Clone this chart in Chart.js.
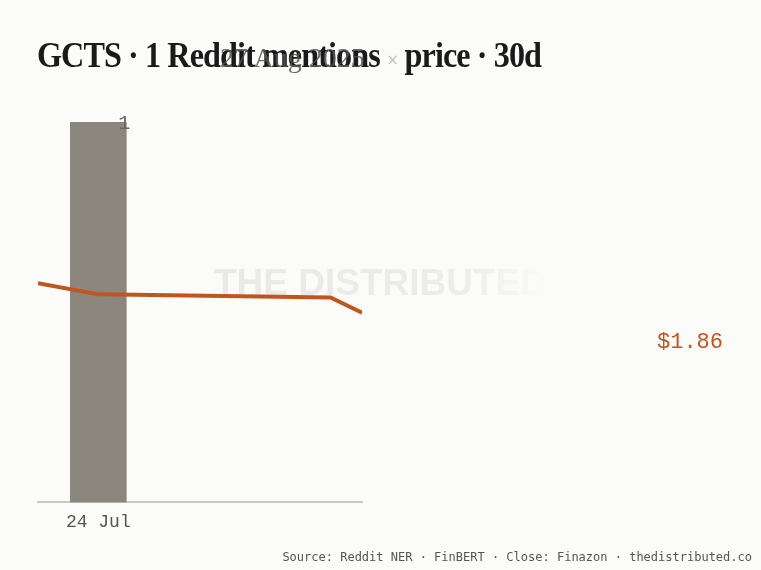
<!DOCTYPE html>
<html lang="en">
<head>
  <meta charset="UTF-8">
  <title>GCTS Reddit mentions x price</title>
  <style>
    body {
      margin: 0;
      padding: 0;
      background-color: #fbfbf9;
      width: 761px;
      height: 570px;
      overflow: hidden;
      position: relative;
    }

    #chart {
      position: absolute;
      left: 0;
      top: 0;
    }

    .title {
      position: absolute;
      left: 37px;
      top: 36px;
      font-family: "Liberation Serif", serif;
      font-weight: bold;
      font-size: 35px;
      color: #1a1a1a;
      white-space: nowrap;
      letter-spacing: -1px;
      transform-origin: left top;
    }

    .title .times {
      color: #b5b5b5;
      font-weight: normal;
      font-size: 22px;
    }

    .date-tag {
      position: absolute;
      left: 220px;
      top: 42px;
      font-family: "Liberation Serif", serif;
      font-size: 28px;
      color: rgba(85, 85, 85, 0.85);
      white-space: nowrap;
    }

    .last-price {
      position: absolute;
      right: 38px;
      top: 330px;
      font-family: "Liberation Mono", monospace;
      font-size: 22px;
      color: #c0561e;
    }

    .source {
      position: absolute;
      right: 9px;
      bottom: 6px;
      font-family: "DejaVu Sans Mono", monospace;
      font-size: 12px;
      color: #555;
      white-space: nowrap;
    }
  </style>
  <script src="https://cdn.jsdelivr.net/npm/chart.js"></script>
</head>
<body>
  <canvas id="chart" width="761" height="570"></canvas>
  <div class="title" id="title">GCTS · 1 Reddit mentions <span class="times">×</span> price · 30d</div>
  <div class="date-tag">27 Aug 2025</div>
  <div class="last-price" id="last-price"></div>
  <div class="source">Source: Reddit NER · FinBERT · Close: Finazon · thedistributed.co</div>

  <script>
    // window shown on the x axis
    const windowStart = '2025-07-18T10:00';
    const windowEnd = '2025-08-17T10:00';

    // reddit mentions per day
    const mentionDates = ['2025-07-24'];
    const mentionCounts = [1];

    // daily close
    const priceDates = ['2025-07-18T10:00', '2025-07-24', '2025-08-14T12:00', '2025-08-17T10:00'];
    const priceValues = [2.15, 2.04, 2.01, 1.86];

    // labelled ticks
    const tickDates = ['2025-07-24'];
    const tickLabels = ['24 Jul'];

    const t = s => Date.parse(s + (s.length === 10 ? 'T00:00' : ''));

    document.getElementById('last-price').innerText = '$' + priceValues[priceValues.length - 1].toFixed(2);

    // fit title to its width in the reference
    const title = document.getElementById('title');
    title.style.transform = 'scaleX(' + (504 / title.offsetWidth) + ')';

    const watermark = {
      id: 'watermark',
      beforeDatasetsDraw(chart) {
        const ctx = chart.ctx;
        const cx = chart.width / 2;
        const cy = chart.height / 2;
        ctx.save();
        ctx.font = 'bold 37px "Liberation Sans", Arial, sans-serif';
        ctx.textAlign = 'center';
        ctx.textBaseline = 'middle';
        const w = ctx.measureText('THE DISTRIBUTED').width;
        const g = ctx.createLinearGradient(cx - w / 2, 0, cx + w / 2, 0);
        g.addColorStop(0, 'rgba(0,0,0,0.07)');
        g.addColorStop(0.75, 'rgba(0,0,0,0.06)');
        g.addColorStop(1, 'rgba(0,0,0,0)');
        ctx.fillStyle = g;
        ctx.fillText('THE DISTRIBUTED', cx, cy);
        ctx.restore();
      }
    };

    const barValueLabel = {
      id: 'barValueLabel',
      afterDatasetsDraw(chart) {
        const ctx = chart.ctx;
        const meta = chart.getDatasetMeta(0);
        ctx.save();
        ctx.font = '20px "Liberation Mono", monospace';
        ctx.fillStyle = '#666';
        ctx.textAlign = 'center';
        ctx.textBaseline = 'middle';
        meta.data.forEach((bar, i) => {
          ctx.fillText(String(mentionCounts[i]), bar.x + 26, bar.y + 2);
        });
        ctx.restore();
      }
    };

    new Chart(document.getElementById('chart'), {
      data: {
        datasets: [{
          type: 'bar',
          data: mentionDates.map((d, i) => ({ x: t(d), y: mentionCounts[i] })),
          backgroundColor: '#8b877f',
          barThickness: 56,
          yAxisID: 'y',
          order: 2,
        }, {
          type: 'line',
          data: priceDates.map((d, i) => ({ x: t(d), y: priceValues[i] })),
          borderColor: '#c0561e',
          borderWidth: 4,
          pointRadius: 0,
          tension: 0,
          yAxisID: 'price',
          order: 1,
        }],
      },
      options: {
        responsive: false,
        animation: false,
        layout: {
          padding: { left: 38, right: 399, top: 122, bottom: 28 },
        },
        plugins: {
          legend: { display: false },
          tooltip: { enabled: false },
        },
        scales: {
          x: {
            type: 'linear',
            offset: false,
            min: t(windowStart),
            max: t(windowEnd),
            grid: { display: false, drawTicks: false, offset: false },
            border: { color: '#c8c8c8', width: 2 },
            afterBuildTicks(scale) {
              scale.ticks = tickDates.map(d => ({ value: t(d) }));
            },
            ticks: {
              autoSkip: false,
              maxRotation: 0,
              padding: 9,
              color: '#555',
              font: { family: '"Liberation Mono", monospace', size: 18 },
              callback(value) {
                const i = tickDates.findIndex(d => t(d) === value);
                return i >= 0 ? tickLabels[i] : '';
              },
            },
          },
          y: {
            display: false,
            min: 0,
            max: 1,
          },
          price: {
            display: false,
            min: 0,
            max: 3.73,
          },
        },
      },
      plugins: [watermark, barValueLabel],
    });
  </script>
</body>
</html>
